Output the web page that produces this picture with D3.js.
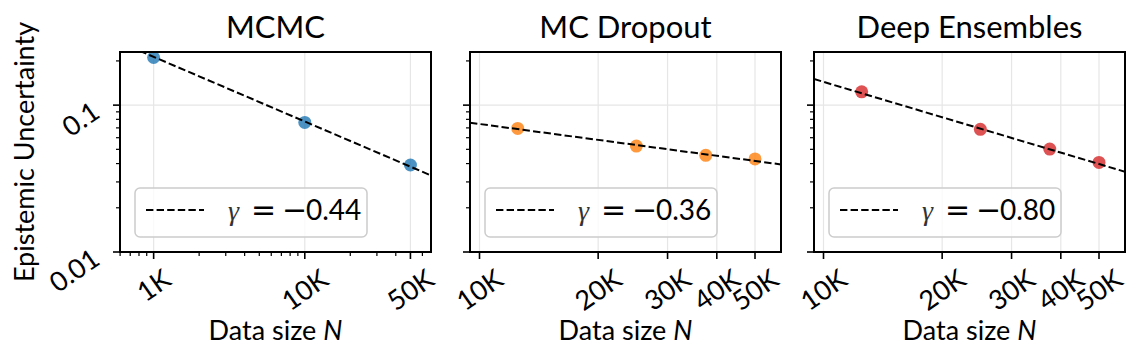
<!DOCTYPE html>
<meta charset="utf-8">
<style>
body { margin: 0; background: #fff; }
svg { display: block; }
text { font-family: Lato, "DejaVu Sans", sans-serif; fill: #000; }
.title { font-size: 31px; text-anchor: middle; }
.axlabel { font-size: 27px; text-anchor: middle; }
.tick-label { font-size: 27px; text-anchor: middle; }
.grid line { stroke: #e6e6e6; stroke-width: 1.2; }
.spine { fill: none; stroke: #000; stroke-width: 2; }
</style>
<svg width="1143" height="363"></svg>
<script src="https://d3js.org/d3.v7.min.js"></script>
<script>

// panel titles and colours
var titles = ["MCMC", "MC Dropout", "Deep Ensembles"];
var colors = ["#1f77b4", "#ff7f0e", "#d62728"];

// data size N and epistemic uncertainty per method
var nMCMC = [1000, 10000, 50000];
var uMCMC = [0.211, 0.0763, 0.0391];
var nDropout = [12500, 25000, 37500, 50000];
var uDropout = [0.0694, 0.0526, 0.0455, 0.0430];
var nEnsembles = [12500, 25000, 37500, 50000];
var uEnsembles = [0.1232, 0.0684, 0.0502, 0.0407];

// fitted power law: value of the fit at N = 10K, and exponent gamma
var gammas = [-0.44, -0.36, -0.80];
var fitAt10K = [0.0774, 0.0744, 0.144];

// axes limits and ticks
var xDomains = [[599, 68400], [9460, 58200], [9460, 58200]];
var yDomain = [0.01, 0.23];
var xTickVals = [[1000, 10000, 50000], [10000, 20000, 30000, 40000, 50000], [10000, 20000, 30000, 40000, 50000]];
var xTickLabels = [["1K", "10K", "50K"], ["10K", "20K", "30K", "40K", "50K"], ["10K", "20K", "30K", "40K", "50K"]];
var xMinor = [true, false, false];
var yTickVals = [0.01, 0.1];
var yTickLabels = ["0.01", "0.1"];

var nData = [nMCMC, nDropout, nEnsembles];
var uData = [uMCMC, uDropout, uEnsembles];

var svg = d3.select("svg");
var lefts = [120, 470, 814];
var axW = 311, axTop = 52, axH = 200;
var rot = 35 * Math.PI / 180;
var sin = Math.sin(rot), cos = Math.cos(rot);
var tickFs = 27;

for (let p = 0; p < 3; p++) {
	let left = lefts[p];
	let x = d3.scaleLog().domain(xDomains[p]).range([left, left + axW]);
	let y = d3.scaleLog().domain(yDomain).range([axTop + axH, axTop]);
	let g = svg.append("g");

	g.append("clipPath").attr("id", "clip" + p)
		.append("rect").attr("x", left).attr("y", axTop).attr("width", axW).attr("height", axH);

	// grid
	let grid = g.append("g").attr("class", "grid");
	grid.selectAll(".gx").data(xTickVals[p]).enter().append("line")
		.attr("x1", d => x(d)).attr("x2", d => x(d))
		.attr("y1", axTop).attr("y2", axTop + axH);
	grid.selectAll(".gy").data(yTickVals).enter().append("line")
		.attr("x1", left).attr("x2", left + axW)
		.attr("y1", d => y(d)).attr("y2", d => y(d));

	// points
	let pts = nData[p].map((n, i) => [n, uData[p][i]]);
	g.append("g").attr("clip-path", "url(#clip" + p + ")")
		.selectAll("circle").data(pts).enter().append("circle")
		.attr("cx", d => x(d[0])).attr("cy", d => y(d[1])).attr("r", 6.5)
		.attr("fill", colors[p]).attr("fill-opacity", 0.8);

	// fitted line
	let fit = n => fitAt10K[p] * Math.pow(n / 10000, gammas[p]);
	let line = d3.line().x(d => x(d)).y(d => y(fit(d)));
	g.append("path").attr("clip-path", "url(#clip" + p + ")")
		.attr("d", line(xDomains[p]))
		.attr("fill", "none").attr("stroke", "#000").attr("stroke-width", 2)
		.attr("stroke-dasharray", "7.4,3.2");

	// legend
	let lx = left + 15, ly = axTop + axH - 15 - 49;
	let leg = g.append("g");
	leg.append("rect").attr("x", lx).attr("y", ly).attr("width", 232).attr("height", 49)
		.attr("rx", 5).attr("fill", "#fff").attr("fill-opacity", 0.8)
		.attr("stroke", "#cccccc").attr("stroke-width", 1.5);
	leg.append("line").attr("x1", lx + 11).attr("x2", lx + 69).attr("y1", ly + 22).attr("y2", ly + 22)
		.attr("stroke", "#000").attr("stroke-width", 2).attr("stroke-dasharray", "7.4,3.2");
	let lt = leg.append("text").attr("y", ly + 32).style("font-size", "28px");
	lt.append("tspan").attr("x", lx + 93)
		.style("font-family", "'Liberation Serif', serif").style("font-style", "italic").style("fill", "#333").text("γ");
	lt.append("tspan").attr("x", lx + 116).style("font-family", "'DejaVu Sans'").style("font-size", "30px").text("=");
	lt.append("tspan").attr("x", lx + 147).style("font-family", "'DejaVu Sans'").style("font-size", "30px").text("−");
	lt.append("tspan").attr("x", lx + 171).text(Math.abs(gammas[p]).toFixed(2));

	// spines
	g.append("rect").attr("class", "spine").attr("x", left).attr("y", axTop).attr("width", axW).attr("height", axH);

	// y ticks
	let yMin = y.ticks().filter(d => yTickVals.indexOf(d) < 0 && d > yDomain[0] && d < yDomain[1]);
	g.selectAll(".ymaj").data(yTickVals).enter().append("line")
		.attr("x1", left - 7).attr("x2", left).attr("y1", d => y(d)).attr("y2", d => y(d))
		.attr("stroke", "#000").attr("stroke-width", 1.6);
	g.selectAll(".ymin").data(yMin).enter().append("line")
		.attr("x1", left - 4).attr("x2", left).attr("y1", d => y(d)).attr("y2", d => y(d))
		.attr("stroke", "#000").attr("stroke-width", 1.2);

	// x ticks
	let base = axTop + axH;
	g.selectAll(".xmaj").data(xTickVals[p]).enter().append("line")
		.attr("x1", d => x(d)).attr("x2", d => x(d)).attr("y1", base).attr("y2", base + 7)
		.attr("stroke", "#000").attr("stroke-width", 1.6);
	if (xMinor[p]) {
		let xMin = x.ticks().filter(d => xTickVals[p].indexOf(d) < 0);
		g.selectAll(".xmin").data(xMin).enter().append("line")
			.attr("x1", d => x(d)).attr("x2", d => x(d)).attr("y1", base).attr("y2", base + 4)
			.attr("stroke", "#000").attr("stroke-width", 1.2);
	}

	// rotated x tick labels, centred under the tick
	xTickVals[p].forEach(function(v, i) {
		let t = g.append("text").attr("class", "tick-label").attr("dy", "0.36em").text(xTickLabels[p][i]);
		let L = t.node().getComputedTextLength();
		let capH = 0.72 * tickFs;
		let cx = x(v), cy = 267.5 + (L * sin + capH * cos) / 2;
		t.attr("x", cx).attr("y", cy).attr("transform", "rotate(-35," + cx + "," + cy + ")");
	});

	// rotated y tick labels, first panel only
	if (p === 0) {
		yTickVals.forEach(function(v, i) {
			let t = g.append("text").attr("class", "tick-label").attr("dy", "0.36em").text(yTickLabels[i]);
			let L = t.node().getComputedTextLength();
			let capH = 0.72 * tickFs;
			let cx = 101.7 - (L * cos + capH * sin) / 2;
			let cy = y(v) - 5 + (L * sin + capH * cos) / 2;
			t.attr("x", cx).attr("y", cy).attr("transform", "rotate(-35," + cx + "," + cy + ")");
		});
		g.append("text").attr("class", "axlabel")
			.attr("transform", "translate(34," + (axTop + axH / 2) + ") rotate(-90)")
			.text("Epistemic Uncertainty");
	}

	// title and x label
	g.append("text").attr("class", "title").attr("x", left + axW / 2).attr("y", 38).text(titles[p]);
	let xl = g.append("text").attr("class", "axlabel").attr("x", left + axW / 2).attr("y", 340);
	xl.append("tspan").text("Data size ");
	xl.append("tspan").style("font-style", "italic").text("N");
}

</script>
